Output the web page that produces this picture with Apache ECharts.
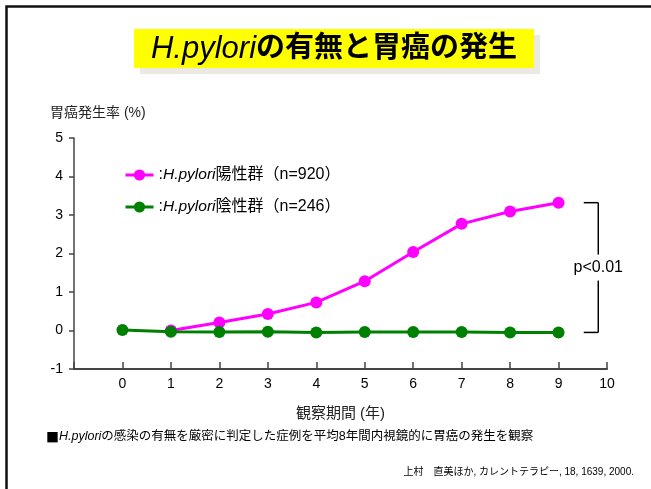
<!DOCTYPE html>
<html>
<head>
<meta charset="utf-8">
<script src="https://cdn.jsdelivr.net/npm/echarts@6/dist/echarts.min.js"></script>
<style>
  html, body { margin: 0; padding: 0; background: #fff; }
  #chart { width: 651px; height: 489px; }
</style>
</head>
<body>
<div id="chart"></div>
<script>
// Observation years (x) and cumulative gastric cancer incidence (%)
const years = [0, 1, 2, 3, 4, 5, 6, 7, 8, 9];
const positiveYears = [1, 2, 3, 4, 5, 6, 7, 8, 9];
const positiveRate = [0.0, 0.21, 0.43, 0.73, 1.28, 2.04, 2.77, 3.09, 3.32];
const negativeRate = [0.01, -0.03, -0.04, -0.03, -0.05, -0.04, -0.04, -0.04, -0.05, -0.05];
const xTicks = [0, 1, 2, 3, 4, 5, 6, 7, 8, 9, 10];
const yTicks = [-1, 0, 1, 2, 3, 4, 5];

const seriesNames = ['陽性群', '陰性群'];
const legendLabels = {
  '陽性群': '{c|:}{i|H.pylori}{c|陽性群（n=920）}',
  '陰性群': '{c|:}{i|H.pylori}{c|陰性群（n=246）}'
};
const pValueText = 'p<0.01';
const yAxisTitle = '胃癌発生率 (%)';

const FONT = "'Liberation Sans', 'Noto Sans CJK JP', sans-serif";
const CJK = "'Noto Sans CJK JP', sans-serif";
const PINK = '#ff00ff';
const GREEN = '#008000';

const chart = echarts.init(document.getElementById('chart'), null, { renderer: 'canvas' });

const pair = (xs, ys) => xs.map((x, i) => [x, ys[i]]);

chart.setOption({
  animation: false,
  textStyle: { fontFamily: FONT },
  grid: { left: 74, right: 44, top: 138, bottom: 120, containLabel: false },
  legend: {
    data: seriesNames,
    orient: 'vertical',
    left: 119,
    top: 162,
    itemWidth: 28,
    itemHeight: 14,
    itemGap: 16,
    lineStyle: { width: 3 },
    formatter: name => legendLabels[name],
    textStyle: {
      fontSize: 15,
      color: '#000',
      rich: {
        c: { fontFamily: FONT, fontSize: 16, color: '#000' },
        i: { fontFamily: FONT, fontSize: 15.5, fontStyle: 'italic', color: '#000' }
      }
    }
  },
  xAxis: {
    type: 'value',
    min: -1,
    max: 10,
    interval: 1,
    name: '観察期間 (年)',
    nameLocation: 'middle',
    nameGap: 37,
    nameTextStyle: { fontSize: 15, color: '#222', fontFamily: FONT },
    axisLine: { show: true, onZero: false, lineStyle: { color: '#444', width: 2 } },
    axisTick: { show: true, inside: true, length: 7, lineStyle: { color: '#444', width: 1.5 } },
    axisLabel: {
      fontSize: 14, color: '#000', margin: 8,
      formatter: v => (xTicks.indexOf(v) >= 0 ? String(v) : '')
    },
    splitLine: { show: false }
  },
  yAxis: {
    type: 'value',
    min: -1,
    max: 5,
    interval: 1,
    axisLine: { show: true, onZero: false, lineStyle: { color: '#444', width: 1.5 } },
    axisTick: { show: true, inside: false, length: 5, lineStyle: { color: '#444', width: 1.5 } },
    axisLabel: {
      fontSize: 14, color: '#000', margin: 11,
      formatter: v => (yTicks.indexOf(v) >= 0 ? String(v) : '')
    },
    splitLine: { show: false }
  },
  series: [
    {
      name: seriesNames[0],
      type: 'line',
      data: pair(positiveYears, positiveRate),
      symbol: 'circle',
      symbolSize: 12,
      lineStyle: { color: PINK, width: 3 },
      itemStyle: { color: PINK },
      z: 2
    },
    {
      name: seriesNames[1],
      type: 'line',
      data: pair(years, negativeRate),
      symbol: 'circle',
      symbolSize: 12,
      lineStyle: { color: GREEN, width: 3 },
      itemStyle: { color: GREEN },
      z: 3
    }
  ]
});

// Significance bracket, titles and notes drawn around the plot
function drawDecorations() {
  const topVal = positiveRate[positiveRate.length - 1];
  const botVal = negativeRate[negativeRate.length - 1];
  const midVal = (topVal + botVal) / 2;
  const px = (x, y) => chart.convertToPixel({ gridIndex: 0 }, [x, y]);
  const pTop0 = px(9.52, topVal), pTop1 = px(9.82, topVal);
  const pBot0 = px(9.52, botVal), pBot1 = px(9.82, botVal);
  const pMid = px(9.82, midVal);
  const gap = 13;
  const lineStyle = { stroke: '#000', lineWidth: 1.5 };

  chart.setOption({
    graphic: [
      // Slide frame
      { type: 'rect', shape: { x: 6.5, y: 6.5, width: 700, height: 600 },
        style: { fill: 'none', stroke: '#111', lineWidth: 2.5 }, silent: true },
      // Title banner: shadow then yellow box
      { type: 'rect', shape: { x: 140, y: 35, width: 400, height: 39 },
        style: { fill: '#ebe9e1' }, silent: true },
      { type: 'rect', shape: { x: 134, y: 29, width: 400, height: 39 },
        style: { fill: '#ffff00' }, silent: true },
      { type: 'text', x: 334, y: 49,
        style: {
          align: 'center', verticalAlign: 'middle',
          text: '{i|H.pylori}{b|の有無と胃癌の発生}',
          rich: {
            i: { fontFamily: FONT, fontSize: 31, fontStyle: 'italic', fill: '#000' },
            b: { fontFamily: FONT, fontSize: 29, fontWeight: 'bold', fill: '#000' }
          }
        }, silent: true },
      // Y axis title
      { type: 'text', x: 50, y: 113,
        style: { text: yAxisTitle, verticalAlign: 'middle', fontFamily: FONT, fontSize: 14, fill: '#222' } },
      // Bracket
      { type: 'line', shape: { x1: pTop0[0], y1: pTop0[1], x2: pTop1[0], y2: pTop1[1] }, style: lineStyle },
      { type: 'line', shape: { x1: pTop1[0], y1: pTop1[1], x2: pMid[0], y2: pMid[1] - gap }, style: lineStyle },
      { type: 'line', shape: { x1: pMid[0], y1: pMid[1] + gap, x2: pBot1[0], y2: pBot1[1] }, style: lineStyle },
      { type: 'line', shape: { x1: pBot0[0], y1: pBot0[1], x2: pBot1[0], y2: pBot1[1] }, style: lineStyle },
      { type: 'text', x: pMid[0], y: pMid[1],
        style: { text: pValueText, align: 'center', verticalAlign: 'middle',
                 fontFamily: FONT, fontSize: 16, fill: '#000' } },
      // Footnote and reference
      { type: 'text', x: 46, y: 437,
        style: {
          verticalAlign: 'middle',
          text: '{s|■}{i|H.pylori}{c|の感染の有無を厳密に判定した症例を平均8年間内視鏡的に胃癌の発生を観察}',
          rich: {
            s: { fontFamily: CJK, fontSize: 13, fill: '#000' },
            c: { fontFamily: FONT, fontSize: 12.5, fill: '#000' },
            i: { fontFamily: FONT, fontSize: 12.5, fontStyle: 'italic', fill: '#000' }
          }
        } },
      { type: 'text', x: 634, y: 472,
        style: {
          align: 'right', verticalAlign: 'middle',
          text: '上村　直美ほか, カレントテラピー, 18, 1639, 2000.',
          fontFamily: FONT, fontSize: 10, fill: '#000'
        } }
    ]
  });
}
drawDecorations();
</script>
</body>
</html>
